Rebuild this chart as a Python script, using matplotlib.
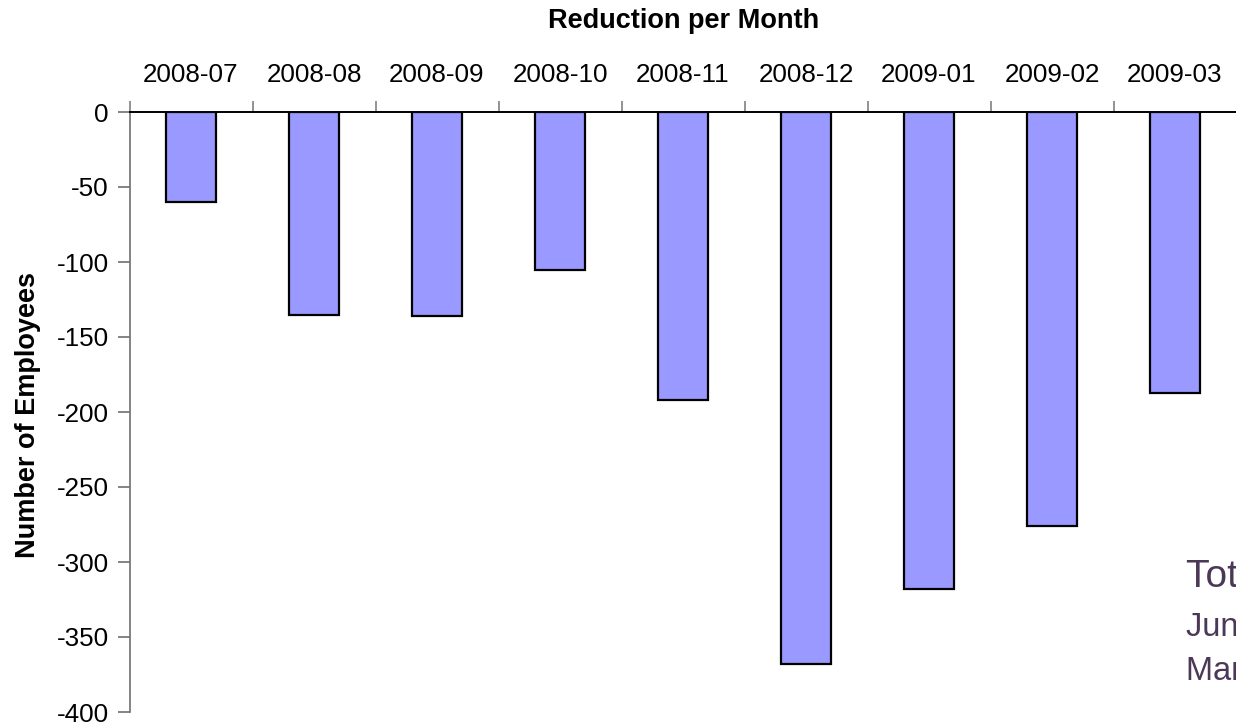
import matplotlib
matplotlib.use("Agg")
import matplotlib.pyplot as plt
from matplotlib.ticker import FixedLocator

plt.rcParams['font.family'] = ['Liberation Sans', 'DejaVu Sans']

months = ["2008-07", "2008-08", "2008-09", "2008-10", "2008-11",
          "2008-12", "2009-01", "2009-02", "2009-03"]
reduction = [-60, -135, -136, -105, -192, -368, -318, -276, -187]
y_ticks = [0, -50, -100, -150, -200, -250, -300, -350, -400]

W, H = 1236, 727
fig = plt.figure(figsize=(W / 100, H / 100), dpi=100)
ax = fig.add_axes([129.5 / W, 15 / H, 9 * 123 / W, 600 / H])

x = list(range(len(months)))
ax.bar(x, reduction, width=0.41, color="#9999FF", edgecolor="black",
       linewidth=1.6, zorder=2)

ax.set_xlim(-0.5, len(months) - 0.5)
ax.set_ylim(-400, 0)

# category labels along the zero line at the top
ax.xaxis.tick_top()
ax.set_xticks(x)
ax.set_xticklabels(months, fontsize=18.7)
ax.tick_params(axis='x', which='major', length=0, pad=18)
ax.xaxis.set_minor_locator(FixedLocator([i - 0.5 for i in range(len(months) + 1)]))
ax.tick_params(axis='x', which='minor', length=8, width=1.2, color="#808080",
               top=True, bottom=False)

ax.set_yticks(y_ticks)
ax.set_yticklabels([str(v) for v in y_ticks], fontsize=18.7)
ax.tick_params(axis='y', length=9, width=1.2, color="#707070", pad=6)

for side in ("right", "bottom"):
    ax.spines[side].set_visible(False)
ax.spines["left"].set_color("#707070")
ax.spines["left"].set_linewidth(1.2)
ax.spines["top"].set_color("black")
ax.spines["top"].set_linewidth(1.4)
ax.spines["top"].set_zorder(3)

fig.text(0.5 * (546 + 822) / W, 1 - 21 / H, "Reduction per Month",
         ha="center", va="center", fontsize=19.5, fontweight="bold")
fig.text(28 / W, 1 - 415 / H, "Number of Employees", rotation=90,
         ha="center", va="center", fontsize=19.5, fontweight="bold")

note_color = "#4B3857"
fig.text(1186 / W, 1 - 577 / H, "Total: 1,777", ha="left", va="center",
         fontsize=28, color=note_color)
fig.text(1186 / W, 1 - 627 / H, "June 2008 -", ha="left", va="center",
         fontsize=23.5, color=note_color)
fig.text(1186 / W, 1 - 672 / H, "March 2009", ha="left", va="center",
         fontsize=23.5, color=note_color)

fig.savefig("out.png", dpi=100)
